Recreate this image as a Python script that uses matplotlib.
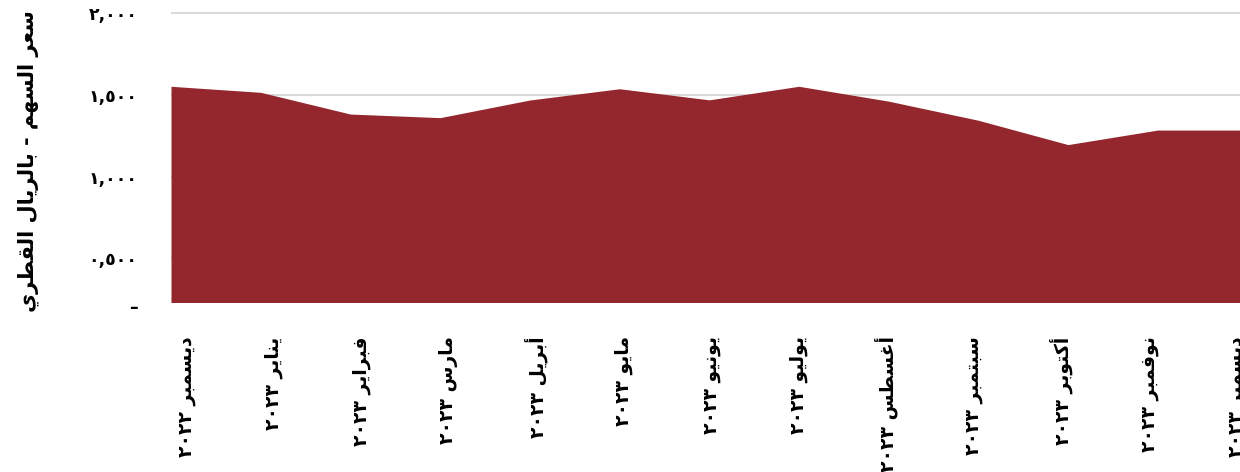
import matplotlib
matplotlib.use("Agg")
import matplotlib.pyplot as plt
from matplotlib.transforms import ScaledTranslation

# ---------------- data ----------------
months = ["ديسمبر ٢٠٢٢", "يناير ٢٠٢٣", "فبراير ٢٠٢٣", "مارس ٢٠٢٣", "أبريل ٢٠٢٣",
          "مايو ٢٠٢٣", "يونيو ٢٠٢٣", "يوليو ٢٠٢٣", "أغسطس ٢٠٢٣", "سبتمبر ٢٠٢٣",
          "أكتوبر ٢٠٢٣", "نوفمبر ٢٠٢٣", "ديسمبر ٢٠٢٣"]
prices = [1.553, 1.516, 1.383, 1.361, 1.469, 1.538, 1.470, 1.553, 1.462, 1.345,
          1.196, 1.285, 1.285]
ytick_values = [0.5, 1.0, 1.5, 2.0]
y_title = "سعر السهم - بالريال القطري"

# ---------------- minimal Arabic shaping (matplotlib has no bidi/shaping) ----------------
FORMS = {  # iso, fin, ini, med
    'ا': (0xFE8D, 0xFE8E, None, None), 'أ': (0xFE83, 0xFE84, None, None),
    'د': (0xFEA9, 0xFEAA, None, None), 'ر': (0xFEAD, 0xFEAE, None, None),
    'و': (0xFEED, 0xFEEE, None, None),
    'ب': (0xFE8F, 0xFE90, 0xFE91, 0xFE92), 'ت': (0xFE95, 0xFE96, 0xFE97, 0xFE98),
    'س': (0xFEB1, 0xFEB2, 0xFEB3, 0xFEB4), 'ط': (0xFEC1, 0xFEC2, 0xFEC3, 0xFEC4),
    'ع': (0xFEC9, 0xFECA, 0xFECB, 0xFECC), 'غ': (0xFECD, 0xFECE, 0xFECF, 0xFED0),
    'ف': (0xFED1, 0xFED2, 0xFED3, 0xFED4), 'ق': (0xFED5, 0xFED6, 0xFED7, 0xFED8),
    'ك': (0xFED9, 0xFEDA, 0xFEDB, 0xFEDC), 'ل': (0xFEDD, 0xFEDE, 0xFEDF, 0xFEE0),
    'م': (0xFEE1, 0xFEE2, 0xFEE3, 0xFEE4), 'ن': (0xFEE5, 0xFEE6, 0xFEE7, 0xFEE8),
    'ه': (0xFEE9, 0xFEEA, 0xFEEB, 0xFEEC), 'ي': (0xFEF1, 0xFEF2, 0xFEF3, 0xFEF4),
}
DUAL = {c for c, f in FORMS.items() if f[2] is not None}
LAMALEF = {'ا': (0xFEFB, 0xFEFC), 'أ': (0xFEF7, 0xFEF8)}


def shape(word):
    ch = list(word)
    n = len(ch)
    out = []
    i = 0
    while i < n:
        c = ch[i]
        prev_j = i > 0 and ch[i - 1] in DUAL
        if c == 'ل' and i + 1 < n and ch[i + 1] in LAMALEF:
            lig = LAMALEF[ch[i + 1]]
            out.append(chr(lig[1] if prev_j else lig[0]))
            i += 2
            continue
        if c not in FORMS:
            out.append(c)
            i += 1
            continue
        iso, fin, ini, med = FORMS[c]
        next_j = c in DUAL and i + 1 < n and ch[i + 1] in FORMS
        if prev_j and next_j:
            cp = med
        elif prev_j:
            cp = fin
        elif next_j:
            cp = ini
        else:
            cp = iso
        out.append(chr(cp))
        i += 1
    return ''.join(out)


def visual(text):
    toks = text.split(' ')
    vis = [shape(t)[::-1] if any(c in FORMS for c in t) else t for t in toks]
    return ' '.join(reversed(vis))


AR_DIGITS = str.maketrans('0123456789', '٠١٢٣٤٥٦٧٨٩')


def fmt_price(v):
    return f"{v:.3f}".replace('.', ',').translate(AR_DIGITS)


# ---------------- figure ----------------
W, H = 1240, 472
plt.rcParams['font.family'] = ['DejaVu Sans']
fig = plt.figure(figsize=(W / 100, H / 100), dpi=100)

FILL = '#93272D'
px_per_unit = 163.3
y_top_val, y_top_px = 2.0, 13.3
ymax = 2.01
ymin = 0.234
x_left_px, x_step_px = 171, 89.7
n = len(prices)

top_px = y_top_px - (ymax - y_top_val) * px_per_unit
bot_px = y_top_px + (y_top_val - ymin) * px_per_unit
right_px = x_left_px + (n - 1) * x_step_px
ax = fig.add_axes([x_left_px / W, 1 - bot_px / H,
                   (right_px - x_left_px) / W, (bot_px - top_px) / H])

x = list(range(n))
ax.fill_between(x, 0, prices, color=FILL, linewidth=0, zorder=2)
ax.set_xlim(0, n - 1)
ax.set_ylim(ymin, ymax)

ax.set_yticks([ymin] + ytick_values)
ax.set_yticklabels(['–'] + [fmt_price(v) for v in ytick_values],
                   fontsize=12.5, fontweight='bold')
ax.tick_params(axis='y', length=0, pad=24)
ylabs = ax.get_yticklabels()
ylabs[0].set_transform(ylabs[0].get_transform() +
                       ScaledTranslation(0, -3 / 72, fig.dpi_scale_trans))
ax.yaxis.grid(True, color='#d9d9d9', linewidth=1.5)
ax.set_axisbelow(True)
ax.set_xticks([])
for s in ax.spines.values():
    s.set_visible(False)

# category labels (Excel places them at a slightly different spacing than the points)
lab0 = (186 - x_left_px) / x_step_px
lab_step = 87.55 / x_step_px
sec = ax.secondary_xaxis('bottom', functions=(lambda v: (v - lab0) / lab_step,
                                              lambda i: i * lab_step + lab0))
sec.set_xticks(range(n))
sec.set_xticklabels([visual(m) for m in months], rotation=90, fontsize=13.5,
                    fontweight='bold', va='top', ha='center')
sec.tick_params(length=0, pad=25)
for s in sec.spines.values():
    s.set_visible(False)

fig.text(28 / W, 1 - 161 / H, visual(y_title), rotation=90, ha='center',
         va='center', fontsize=15, fontweight='bold')

fig.savefig('out.png', dpi=100)
